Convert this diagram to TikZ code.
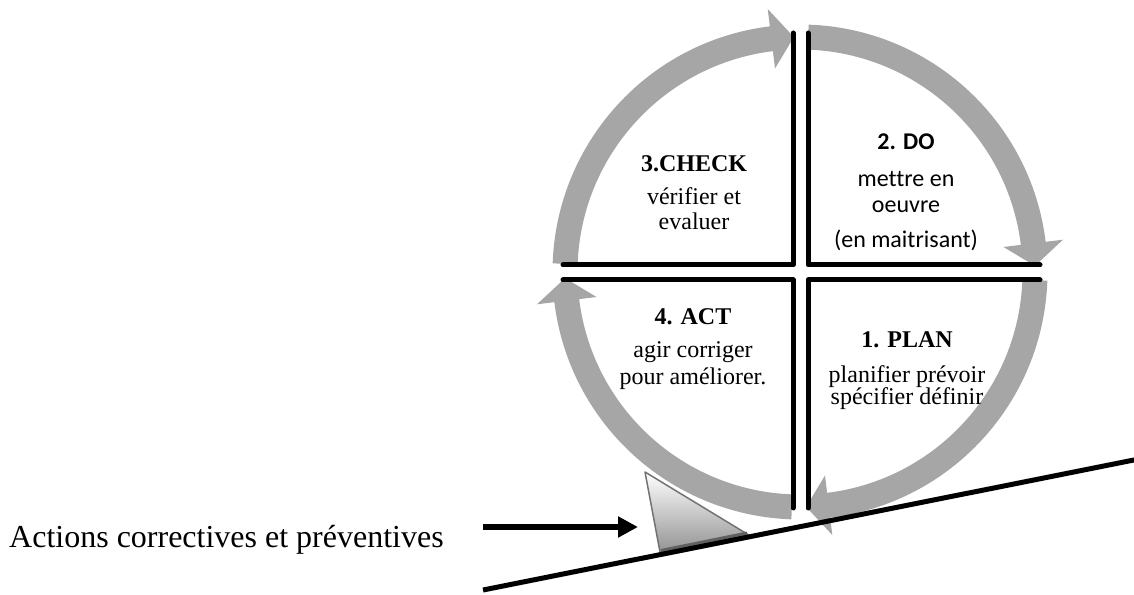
\documentclass[tikz,border=0pt]{standalone}
\usepackage{fontspec}
\setmainfont{Liberation Serif}
\newfontfamily\calibrifont[Ligatures=NoCommon]{Carlito}
\usetikzlibrary{arrows.meta}
\definecolor{arrowgray}{HTML}{A6A6A6}
\tikzset{
  cyclearrow/.style={fill=arrowgray, draw=none},
  quadedge/.style={line width=5pt, line join=round, line cap=round, black},
  serifline/.style={anchor=base, inner sep=0pt, font=\fontsize{24}{28}\selectfont},
  seriftitle/.style={anchor=base, inner sep=0pt, font=\fontsize{24}{28}\selectfont\bfseries},
  sansline/.style={anchor=base, inner sep=0pt, font=\calibrifont\fontsize{24}{28}\selectfont},
  sanstitle/.style={anchor=base, inner sep=0pt, font=\calibrifont\bfseries\fontsize{24}{28}\selectfont},
  labeltext/.style={anchor=base west, inner sep=0pt, font=\fontsize{32}{36}\selectfont},
}
% one clockwise quarter arrow of the cycle, starting at angle #1
\newcommand\pdcaarrow[1]{%
  \fill[cyclearrow] (#1:247.5pt) arc[start angle=#1, end angle=#1-81, radius=247.5pt]
    -- (#1-81:265pt) -- (#1-86.5:235pt) -- (#1-81:205pt)
    -- (#1-81:222.5pt) arc[start angle=#1-81, end angle=#1, radius=222.5pt] -- cycle;}
\begin{document}
\begin{tikzpicture}[x=1pt, y=1pt]
\useasboundingbox (0,0) rectangle (1134,594);

% circular PDCA arrows
\begin{scope}[shift={(800,322)}]
  \pdcaarrow{88}
  \pdcaarrow{-2}
  \pdcaarrow{268}
  \pdcaarrow{178}
\end{scope}

% inner edges of the four quadrants
\draw[quadedge] (793,561) -- (793,329) -- (563,329);
\draw[quadedge] (808,561) -- (808,329) -- (1040,329);
\draw[quadedge] (563,314) -- (793,314) -- (793,86);
\draw[quadedge] (1040,314) -- (808,314) -- (808,86);

% quadrant texts
\node[seriftitle] (checkT) at (694,422) {3.CHECK};
\node[serifline] (checkA) at (694,389) {vérifier et};
\node[serifline] (checkB) at (694,364) {evaluer};

\node[sanstitle] (doT) at (906,444) {2. DO};
\node[sansline] (doA) at (906,407) {mettre en};
\node[sansline] (doB) at (906,381) {oeuvre};
\node[sansline] (doC) at (906,346) {(en maitrisant)};

\node[seriftitle] (actT) at (693,269) {4. ACT};
\node[serifline] (actA) at (693,236) {agir corriger};
\node[serifline] (actB) at (693,209) {pour améliorer.};

\node[seriftitle] (planT) at (907,246) {1. PLAN};
\node[serifline] (planA) at (907,211) {planifier prévoir};
\node[serifline] (planB) at (907,189) {spécifier définir};

% wedge holding the wheel on the slope
\shadedraw[top color=white, bottom color=black!42, draw=black!55, line width=1.5pt, line join=round]
  (645,122) -- (660,42) -- (748,59.5) -- cycle;
\draw[line width=3pt, black!62] (661,43.5) -- (747,61);

% slope
\draw[line width=5pt] (483,4) -- (1140,135.2);

% label and its arrow
\node[labeltext] (actions) at (9,46) {Actions correctives et préventives};
\coordinate (arrowtail) at (483,67);
\coordinate (arrowtip) at (638,67);
\draw[line width=6.5pt, -{Triangle[length=20pt, width=20pt]}] (arrowtail) -- (arrowtip);
\end{tikzpicture}
\end{document}
